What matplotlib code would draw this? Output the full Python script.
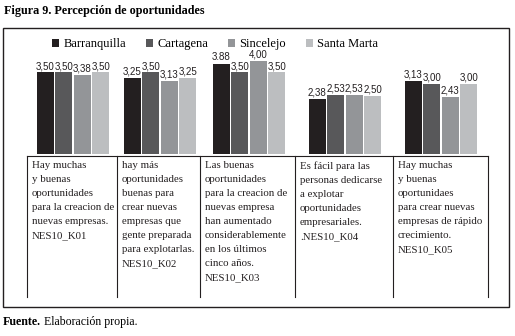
import numpy as np
import matplotlib.pyplot as plt
from matplotlib.lines import Line2D
from matplotlib.patches import Rectangle

W, H = 515, 336

## the data
cities = ['Barranquilla', 'Cartagena', 'Sincelejo', 'Santa Marta']
colors = ['#231f20', '#58585a', '#939598', '#bcbec0']
barranquilla = [3.50, 3.25, 3.88, 2.38, 3.13]
cartagena = [3.50, 3.50, 3.50, 2.53, 3.00]
sincelejo = [3.38, 3.13, 4.00, 2.53, 2.43]
santa_marta = [3.50, 3.25, 3.50, 2.50, 3.00]
series = [barranquilla, cartagena, sincelejo, santa_marta]
# the labels as printed (one uses a point instead of a comma)
bar_labels = [['3,50', '3,25', '3.88', '2,38', '3,13'],
              ['3,50', '3,50', '3,50', '2,53', '3,00'],
              ['3,38', '3,13', '4,00', '2,53', '2,43'],
              ['3,50', '3,25', '3,50', '2,50', '3,00']]
cells = ['Hay muchas\ny buenas\noportunidades\npara la creacion de\nnuevas empresas.\nNES10_K01',
         'hay más\noportunidades\nbuenas para\ncrear nuevas\nempresas que\ngente preparada\npara explotarlas.\nNES10_K02',
         'Las buenas\noportunidades\npara la creacion de\nnuevas empresa\nhan aumentado\nconsiderablemente\nen los últimos\ncinco años.\nNES10_K03',
         'Es fácil para las\npersonas dedicarse\na explotar\noportunidades\nempresariales.\n.NES10_K04',
         'Hay muchas\ny buenas\noportunidaes\npara crear nuevas\nempresas de rápido\ncrecimiento.\nNES10_K05']

## layout (pixels)
centers = [73, 160, 249, 345, 441]
edges = [27, 117, 200, 295, 393, 488]
width = 18.5
base_y = 154
top_y = 28
ppu = 23.3   # pixels per unit

fig = plt.figure(figsize=(W / 100, H / 100), dpi=100)

def fx(x):
    return x / W

def fy(y):
    return 1 - y / H

ax = fig.add_axes([0, fy(base_y), 1, (base_y - top_y) / H])
ax.set_xlim(0, W)
ax.set_ylim(0, (base_y - top_y) / ppu)
ax.axis('off')

rects = []
for i, vals in enumerate(series):
    xs = np.array(centers) + (i - 1.5) * width
    r = ax.bar(xs, vals, width * 0.94, color=colors[i], linewidth=0)
    rects.append(r)
    for x, v, lab in zip(xs, vals, bar_labels[i]):
        ax.text(x, v + 0.06, lab, ha='center', va='bottom',
                fontsize=7, family='Liberation Sans', color='#231f20')

ax.legend(rects, cities, loc='center',
          bbox_to_anchor=(fx(215), 1 - (44 - top_y) / (base_y - top_y)),
          ncol=4, frameon=False, handlelength=0.6, handleheight=0.6,
          handletextpad=0.3, columnspacing=1.6,
          prop={'family': 'Liberation Serif', 'size': 9})

# table lines
lc = '#231f20'
fig.add_artist(Line2D([fx(edges[0]), fx(edges[-1])], [fy(156), fy(156)],
                      color=lc, lw=0.8))
for e in edges:
    fig.add_artist(Line2D([fx(e), fx(e)], [fy(156), fy(297)], color=lc, lw=0.8))
for e, txt in zip(edges[:-1], cells):
    fig.text(fx(e + 5), fy(161), txt, ha='left', va='top',
             fontsize=7.8, family='Liberation Serif', linespacing=1.72,
             color='#231f20')

# outer box
fig.add_artist(Rectangle((fx(3), fy(307)), fx(506), (307 - 28) / H,
                         fill=False, edgecolor=lc, lw=1))

# title and source
fig.text(fx(4), fy(11), 'Figura 9. Percepción de oportunidades', ha='left',
         va='center', fontsize=8.7, family='Liberation Serif', weight='bold')
t = fig.text(fx(3), fy(322), 'Fuente.', ha='left', va='center', fontsize=8.6,
             family='Liberation Serif', weight='bold')
ax.annotate(' Elaboración propia.', xy=(1, 0.5), xycoords=t,
            ha='left', va='center', fontsize=8.6, family='Liberation Serif',
            annotation_clip=False)

fig.savefig('out.png', dpi=100)
